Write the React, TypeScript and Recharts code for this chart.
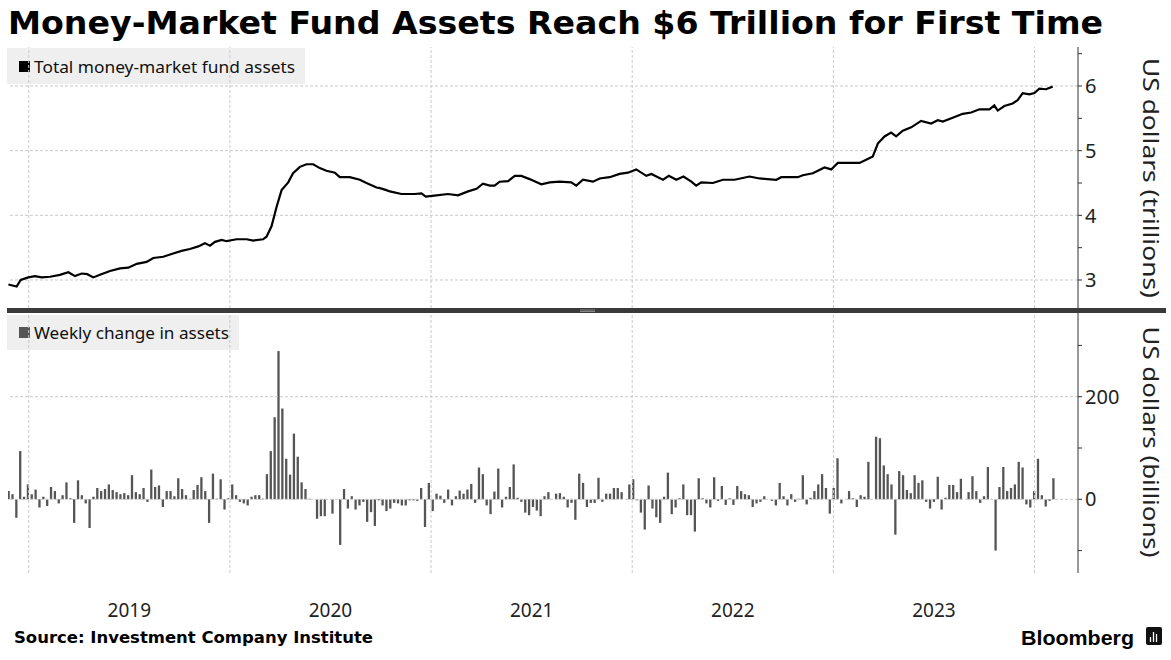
import React from 'react';
import { ComposedChart, Line, Bar, XAxis, YAxis, ReferenceLine } from 'recharts';

const TITLE = 'Money-Market Fund Assets Reach $6 Trillion for First Time';
const SOURCE = 'Source: Investment Company Institute';
const TOP_LEGEND = 'Total money-market fund assets';
const BOTTOM_LEGEND = 'Weekly change in assets';
const TOP_AXIS_LABEL = 'US dollars (trillions)';
const BOTTOM_AXIS_LABEL = 'US dollars (billions)';

const YEAR_LINES = [2019, 2020, 2021, 2022, 2023, 2024];
const YEAR_LABEL_POS = [2019.5, 2020.5, 2021.5, 2022.5, 2023.5];
const X_DOMAIN: [number, number] = [2018.897, 2024.216];

const TOP_DOMAIN: [number, number] = [2.567, 6.603];
const TOP_TICKS = [3, 3.5, 4, 4.5, 5, 5.5, 6, 6.5];
const TOP_MAJOR = [3, 4, 5, 6];
const BOTTOM_DOMAIN: [number, number] = [-143.7, 363.2];
const BOTTOM_TICKS = [-100, 0, 100, 200, 300];
const BOTTOM_MAJOR = [0, 200];

// Total assets, US$ trillions (x as decimal year)
const lineYears = [
  2018.899, 2018.94, 2018.96, 2018.998, 2019.031, 2019.065, 2019.106, 2019.155, 2019.197, 2019.23,
  2019.263, 2019.291, 2019.321, 2019.354, 2019.404, 2019.454, 2019.495, 2019.537, 2019.586, 2019.619,
  2019.669, 2019.718, 2019.76, 2019.801, 2019.843, 2019.876, 2019.901, 2019.926, 2019.959, 2019.984,
  2020.033, 2020.083, 2020.116, 2020.165, 2020.182, 2020.207, 2020.232, 2020.257, 2020.29, 2020.314,
  2020.348, 2020.381, 2020.414, 2020.447, 2020.48, 2020.522, 2020.546, 2020.596, 2020.646, 2020.679,
  2020.729, 2020.746, 2020.778, 2020.795, 2020.853, 2020.919, 2020.952, 2020.974, 2021.027, 2021.084,
  2021.134, 2021.184, 2021.226, 2021.258, 2021.292, 2021.316, 2021.341, 2021.383, 2021.416, 2021.449,
  2021.49, 2021.548, 2021.59, 2021.639, 2021.697, 2021.722, 2021.755, 2021.805, 2021.838, 2021.888,
  2021.937, 2021.979, 2022.02, 2022.07, 2022.095, 2022.153, 2022.182, 2022.219, 2022.255, 2022.294,
  2022.318, 2022.343, 2022.401, 2022.451, 2022.509, 2022.583, 2022.633, 2022.716, 2022.741, 2022.823,
  2022.848, 2022.898, 2022.956, 2022.989, 2023.022, 2023.08, 2023.13, 2023.163, 2023.196, 2023.221,
  2023.254, 2023.287, 2023.312, 2023.345, 2023.387, 2023.436, 2023.486, 2023.519, 2023.544, 2023.593,
  2023.643, 2023.685, 2023.726, 2023.776, 2023.8, 2023.817, 2023.85, 2023.891, 2023.916, 2023.941,
  2023.974, 2023.999, 2024.024, 2024.057, 2024.09,
];
const lineValues = [
  2.93, 2.9, 3.0, 3.04, 3.06, 3.04, 3.05, 3.08, 3.12, 3.06,
  3.1, 3.09, 3.04, 3.08, 3.14, 3.18, 3.19, 3.25, 3.28, 3.34,
  3.36, 3.41, 3.45, 3.48, 3.52, 3.57, 3.53, 3.59, 3.62, 3.6,
  3.63, 3.63, 3.61, 3.63, 3.67, 3.83, 4.13, 4.39, 4.51, 4.65,
  4.75, 4.79, 4.79, 4.73, 4.69, 4.66, 4.59, 4.59, 4.55, 4.5,
  4.43, 4.42, 4.39, 4.37, 4.33, 4.33, 4.34, 4.29, 4.31, 4.33,
  4.31, 4.37, 4.41, 4.49, 4.46, 4.46, 4.52, 4.53, 4.61, 4.61,
  4.56, 4.48, 4.51, 4.52, 4.51, 4.46, 4.55, 4.52, 4.57, 4.59,
  4.64, 4.66, 4.71, 4.61, 4.64, 4.55, 4.61, 4.55, 4.6, 4.52,
  4.46, 4.51, 4.5, 4.55, 4.55, 4.6, 4.57, 4.55, 4.59, 4.59,
  4.62, 4.65, 4.74, 4.71, 4.81, 4.81, 4.81, 4.86, 4.91, 5.11,
  5.22, 5.28, 5.22, 5.31, 5.36, 5.46, 5.42, 5.47, 5.45, 5.51,
  5.57, 5.59, 5.64, 5.64, 5.7, 5.62, 5.69, 5.73, 5.78, 5.89,
  5.87, 5.89, 5.96, 5.95, 5.99,
];

// Weekly change, US$ billions (one bar per week)
const BAR_START_YEAR = 2018.899;
const WEEK_IN_YEARS = 7 / 365.25;
const weeklyChange = [
  16, 10, -36, 94, 5, 29, 10, 19, -16, 5, -13, 24, 16, -8, 8, 33, 2, -46, 37, 8,
  -8, -56, 5, 22, 16, 20, 29, 18, 14, 10, 12, 8, 47, 14, 10, 22, -5, 58, 24, 27,
  -15, 16, 16, 6, 41, 20, 8, 1, 18, 28, 43, 16, -46, 50, 1, 39, -20, 2, 29, 8,
  -5, -8, -12, 5, 8, 8, 1,
  49, 94, 160, 289, 177, 79, 48, 128, 83, 33, 20, 1, 0, -38, -33, -33, 0, -28, 0, -89,
  20, -18, 6, -20, -12, -5, -44, -25, -52, -2, -12, -23, -18, -7, -8, -12, -12, -2, -2, -3,
  22, -54, 32, -23, 11, 7, -7, 19, -12, 6, 17, 11, 19, 30, -7, 62, 49, -12, -29, 15,
  60, -16, 5, 24, 68, 3, -5, -26, -31, -15,
  -22, -33, 6, 14, 0, 11, 12, 5, -16, -7, -40, 50, 32, -15, -7, -7, 42, -5, 11, 11,
  22, 22, 14, 0, 29, 39, -2, -26, -59, 27, -18, -35, -46, 5, 52, -29, -16, 2, 29, -31,
  -31, -63, 41, 2, -8, -16, 43, -3, 26, -11, 2, -11, 26, 16, 10, 8, -15, -8, -5, 6,
  0, -3, -12, 32, 6, -12, 10, -5, 1,
  47, -10, 3, 16, 29, 49, 22, -28, 22, 80, -8, 0, 16, 2, -15, 8, 5, 73, 0, 122,
  119, 66, 49, 29, -69, 55, 47, 18, 12, 47, 32, 37, -5, -18, -5, 44, -20, 3, 28, 28,
  14, 40, 0, 14, 45, 16, -7, 6, 63, 0, -100, 24, 63, 16, 22, 29, 73, 62, -10, -16,
  16, 79, 8, -14, -3, 41,
];

const lineData = lineYears.map((t, i) => ({ t, v: lineValues[i] }));
const barData = weeklyChange.map((v, i) => ({ t: BAR_START_YEAR + i * WEEK_IN_YEARS, v }));

const FONT = '"Noto Sans", "Open Sans", sans-serif';
const GRID = '#c9c9c9';
const AXIS = '#333333';

const makeYTick = (major: number[]) => (props: any) => {
  const { x, y, payload } = props;
  if (!major.includes(payload.value)) return <g />;
  return (
    <text x={x} y={y} dy="0.36em" textAnchor="start" fontSize={20} fill="#222" fontFamily={FONT}>
      {payload.value}
    </text>
  );
};

const YearTick = (props: any) => {
  const { x, y, payload } = props;
  return (
    <text x={x} y={y + 44} textAnchor="middle" fontSize={19} fill="#222" fontFamily={FONT}>
      {Math.floor(payload.value)}
    </text>
  );
};

export default function App() {
  return (
    <div style={{ position: 'absolute', left: 0, top: 0, width: 1171, height: 660, background: '#fff', overflow: 'hidden' }}>
      {/* back layer: legend boxes */}
      <svg width={1171} height={660} style={{ position: 'absolute', left: 0, top: 0 }}>
        <rect x={7} y={48} width={298} height={36} fill="#efefef" />
        <rect x={19} y={61} width={11} height={11} fill="#000" />
        <text x={34} y={73} fontSize={17} fill="#111" fontFamily={FONT} textLength={261} lengthAdjust="spacingAndGlyphs">
          {TOP_LEGEND}
        </text>
        <rect x={7} y={315} width={232} height={35} fill="#efefef" />
        <rect x={19} y={327} width={11} height={11} fill="#555" />
        <text x={34} y={339} fontSize={17} fill="#111" fontFamily={FONT} textLength={195} lengthAdjust="spacingAndGlyphs">
          {BOTTOM_LEGEND}
        </text>
      </svg>

      <div style={{ position: 'absolute', left: 0, top: 47 }}>
        <ComposedChart width={1171} height={261} data={lineData} margin={{ top: 0, right: 0, bottom: 0, left: 8 }}>
          <XAxis dataKey="t" type="number" domain={X_DOMAIN} allowDataOverflow hide />
          <YAxis
            orientation="right"
            width={93}
            domain={TOP_DOMAIN}
            allowDataOverflow
            ticks={TOP_TICKS}
            interval={0}
            axisLine={{ stroke: AXIS }}
            tickLine={{ stroke: AXIS }}
            tickSize={4}
            tickMargin={3}
            tick={makeYTick(TOP_MAJOR)}
          />
          {TOP_MAJOR.map((v) => (
            <ReferenceLine key={'h' + v} y={v} stroke={GRID} strokeDasharray="3 2" />
          ))}
          {YEAR_LINES.map((yr) => (
            <ReferenceLine key={'v' + yr} x={yr} stroke={GRID} strokeDasharray="3 2" />
          ))}
          <Line dataKey="v" type="linear" stroke="#000" strokeWidth={2.2} dot={false} isAnimationActive={false} />
        </ComposedChart>
      </div>

      <div style={{ position: 'absolute', left: 0, top: 313 }}>
        <ComposedChart width={1171} height={320} data={barData} margin={{ top: 0, right: 0, bottom: 0, left: 8 }}>
          <XAxis
            dataKey="t"
            type="number"
            domain={X_DOMAIN}
            allowDataOverflow
            ticks={YEAR_LABEL_POS}
            interval={0}
            axisLine={false}
            tickLine={false}
            tickSize={0}
            tickMargin={0}
            height={60}
            tick={YearTick}
          />
          <YAxis
            orientation="right"
            width={93}
            domain={BOTTOM_DOMAIN}
            allowDataOverflow
            ticks={BOTTOM_TICKS}
            interval={0}
            axisLine={{ stroke: AXIS }}
            tickLine={{ stroke: AXIS }}
            tickSize={4}
            tickMargin={3}
            tick={makeYTick(BOTTOM_MAJOR)}
          />
          {BOTTOM_MAJOR.map((v) => (
            <ReferenceLine key={'h' + v} y={v} stroke={GRID} strokeDasharray="3 2" />
          ))}
          {YEAR_LINES.map((yr) => (
            <ReferenceLine key={'v' + yr} x={yr} stroke={GRID} strokeDasharray="3 2" />
          ))}
          <Bar dataKey="v" fill="#555" barSize={2.3} isAnimationActive={false} />
        </ComposedChart>
      </div>

      {/* front layer: titles, separators, axis labels */}
      <svg width={1171} height={660} style={{ position: 'absolute', left: 0, top: 0, pointerEvents: 'none' }}>
        <text x={8} y={34} fontSize={32} fontWeight="bold" fill="#000" fontFamily='"DejaVu Sans", sans-serif' textLength={1095} lengthAdjust="spacingAndGlyphs">
          {TITLE}
        </text>
        <rect x={7} y={308} width={1159} height={5} fill="#3a3a3a" />
        <line x1={580} y1={310} x2={595} y2={310} stroke="#aaa" strokeWidth={0.7} />
        <line x1={580} y1={311.5} x2={595} y2={311.5} stroke="#aaa" strokeWidth={0.7} />
        <text transform="translate(1151,178) rotate(90)" textAnchor="middle" dominantBaseline="central" fontSize={21} fill="#222" fontFamily={FONT} textLength={240} lengthAdjust="spacingAndGlyphs">
          {TOP_AXIS_LABEL}
        </text>
        <text transform="translate(1151,442) rotate(90)" textAnchor="middle" dominantBaseline="central" fontSize={21} fill="#222" fontFamily={FONT} textLength={231} lengthAdjust="spacingAndGlyphs">
          {BOTTOM_AXIS_LABEL}
        </text>
        <text x={14} y={643} fontSize={16.5} fontWeight="bold" fill="#000" fontFamily='"DejaVu Sans", sans-serif' textLength={359} lengthAdjust="spacingAndGlyphs">
          {SOURCE}
        </text>
        <text x={1021} y={645} fontSize={20} fontWeight="bold" fill="#000" fontFamily='"Liberation Sans", sans-serif' textLength={113} lengthAdjust="spacingAndGlyphs">
          Bloomberg
        </text>
        <rect x={1146} y={627} width={16} height={18} rx={2} fill="#111" />
        <line x1={1150.5} y1={637} x2={1150.5} y2={642} stroke="#fff" strokeWidth={1.3} />
        <line x1={1153.5} y1={632} x2={1153.5} y2={642} stroke="#fff" strokeWidth={1.3} />
        <line x1={1156.5} y1={634} x2={1156.5} y2={642} stroke="#fff" strokeWidth={1.3} />
      </svg>
    </div>
  );
}
